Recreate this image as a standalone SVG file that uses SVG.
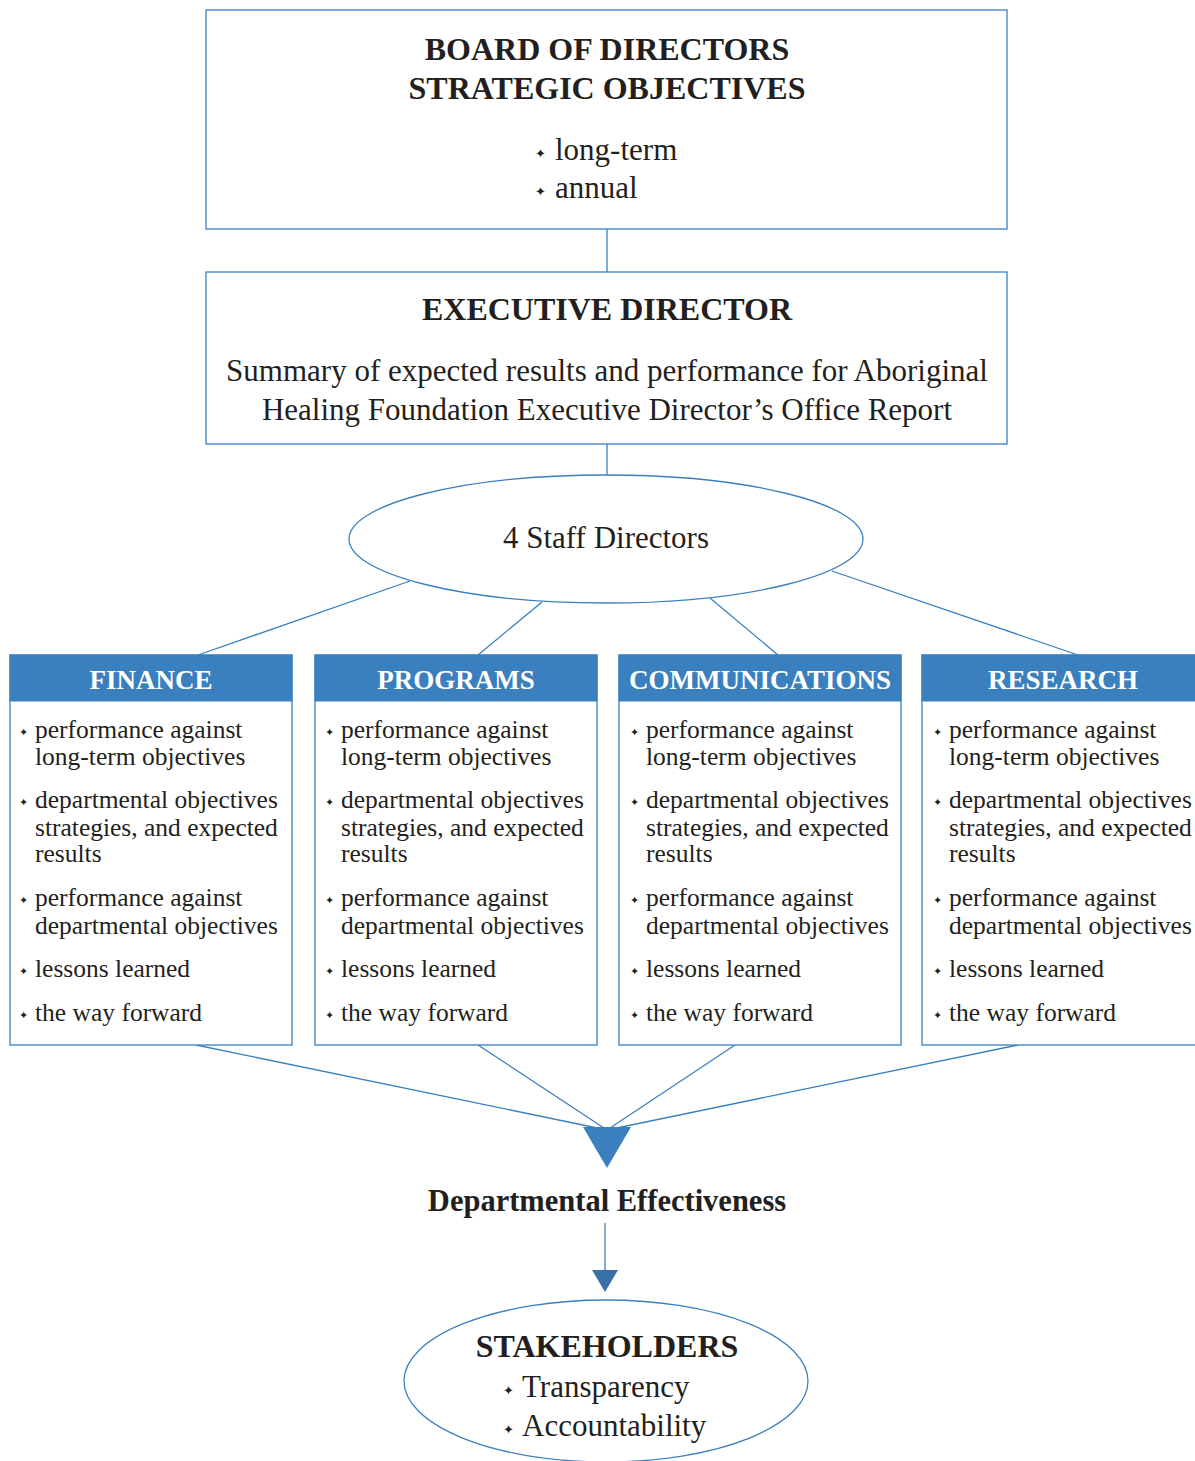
<svg xmlns="http://www.w3.org/2000/svg" width="1195" height="1461" viewBox="0 0 1195 1461">
<style>
.box{fill:#fff;stroke:#3a80c0;stroke-width:1.3}
.hdr{fill:#3a80be;stroke:#3a80c0;stroke-width:1}
.ln{stroke:#3a80c0;stroke-width:1.3;fill:none}
text{font-family:"Liberation Serif",serif;fill:#231f20}
.t{font-weight:bold;font-size:32px;text-anchor:middle}
.m{font-size:31px}
.mc{font-size:31px;text-anchor:middle}
.h{font-weight:bold;font-size:27px;fill:#fff;text-anchor:middle}
.i{font-size:25.5px}
.b{font-family:"DejaVu Sans",sans-serif;font-size:11px}
.bb{font-family:"DejaVu Sans",sans-serif;font-size:13px}
</style>
<defs>
<g id="items">
<text class="b" x="0" y="736">✦</text>
<text class="i" x="16" y="738">performance against</text>
<text class="i" x="16" y="765">long-term objectives</text>
<text class="b" x="0" y="806">✦</text>
<text class="i" x="16" y="808">departmental objectives</text>
<text class="i" x="16" y="836">strategies, and expected</text>
<text class="i" x="16" y="862">results</text>
<text class="b" x="0" y="904">✦</text>
<text class="i" x="16" y="906">performance against</text>
<text class="i" x="16" y="934">departmental objectives</text>
<text class="b" x="0" y="975">✦</text>
<text class="i" x="16" y="977">lessons learned</text>
<text class="b" x="0" y="1019">✦</text>
<text class="i" x="16" y="1021">the way forward</text>
</g>
</defs>
<g id="connectors">
<line class="ln" x1="607" y1="229" x2="607" y2="272"/>
<line class="ln" x1="607" y1="444" x2="607" y2="475"/>
<line class="ln" x1="410" y1="581" x2="198" y2="655"/>
<line class="ln" x1="542" y1="602" x2="478" y2="655"/>
<line class="ln" x1="710" y1="598" x2="778" y2="655"/>
<line class="ln" x1="832" y1="571" x2="1078" y2="655"/>
<line class="ln" x1="196" y1="1045" x2="607" y2="1130"/>
<line class="ln" x1="478" y1="1045" x2="607" y2="1130"/>
<line class="ln" x1="735" y1="1045" x2="607" y2="1130"/>
<line class="ln" x1="1018" y1="1045" x2="607" y2="1130"/>
<polygon points="583,1127 631,1127 607,1168" fill="#3a80be"/>
<line class="ln" x1="605" y1="1223" x2="605" y2="1272"/>
<polygon points="592,1270 618,1270 605,1292" fill="#3a70a8"/>
</g>
<g id="board">
<rect class="box" x="206" y="10" width="801" height="219"/>
<text class="t" x="607" y="60">BOARD OF DIRECTORS</text>
<text class="t" x="607" y="99">STRATEGIC OBJECTIVES</text>
<text class="bb" x="535" y="158">✦</text>
<text class="m" x="555" y="160">long-term</text>
<text class="bb" x="535" y="196">✦</text>
<text class="m" x="555" y="198">annual</text>
</g>
<g id="executive">
<rect class="box" x="206" y="272" width="801" height="172"/>
<text class="t" x="607" y="320">EXECUTIVE DIRECTOR</text>
<text class="mc" x="607" y="381">Summary of expected results and performance for Aboriginal</text>
<text class="mc" x="607" y="420">Healing Foundation Executive Director’s Office Report</text>
</g>
<g id="staff">
<ellipse class="box" cx="606" cy="539" rx="257" ry="64"/>
<text class="mc" x="606" y="548">4 Staff Directors</text>
</g>
<g id="finance">
<rect class="box" x="10" y="655" width="282" height="390"/>
<rect class="hdr" x="10" y="655" width="282" height="46"/>
<text class="h" x="151" y="689">FINANCE</text>
<use href="#items" x="19"/>
</g>
<g id="programs">
<rect class="box" x="315" y="655" width="282" height="390"/>
<rect class="hdr" x="315" y="655" width="282" height="46"/>
<text class="h" x="456" y="689">PROGRAMS</text>
<use href="#items" x="325"/>
</g>
<g id="communications">
<rect class="box" x="619" y="655" width="282" height="390"/>
<rect class="hdr" x="619" y="655" width="282" height="46"/>
<text class="h" x="760" y="689">COMMUNICATIONS</text>
<use href="#items" x="630"/>
</g>
<g id="research">
<rect class="box" x="922" y="655" width="282" height="390"/>
<rect class="hdr" x="922" y="655" width="282" height="46"/>
<text class="h" x="1063" y="689">RESEARCH</text>
<use href="#items" x="933"/>
</g>
<g id="effectiveness">
<text class="t" x="607" y="1211" style="font-size:30.5px">Departmental Effectiveness</text>
</g>
<g id="stakeholders">
<ellipse class="box" cx="606" cy="1381" rx="202" ry="81"/>
<text class="t" x="607" y="1357">STAKEHOLDERS</text>
<text class="bb" x="503" y="1395">✦</text>
<text class="m" x="522" y="1397">Transparency</text>
<text class="bb" x="503" y="1434">✦</text>
<text class="m" x="522" y="1436">Accountability</text>
</g>
</svg>
